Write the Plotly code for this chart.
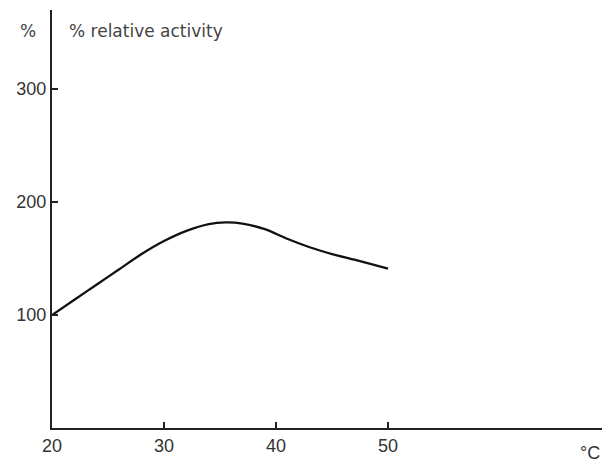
import plotly.graph_objects as go

# Temperature (°C) and relative activity (%)
temperature = [20, 22, 24, 26, 28, 30, 32, 34, 35.5, 37, 39, 41, 43, 45, 47, 50]
activity = [100, 113.5, 127, 140.5, 154, 165.5, 174.5, 180.5, 182, 181, 176, 167.5, 160, 154, 149, 141]

x_ticks = [20, 30, 40, 50]
y_ticks = [100, 200, 300]

fig = go.Figure()
fig.add_trace(go.Scatter(
    x=temperature, y=activity, mode="lines",
    line=dict(color="#111", width=2.3, shape="spline", smoothing=0.8),
    showlegend=False, hoverinfo="skip",
))

tick_font = dict(family="Liberation Sans, Arial, sans-serif", size=18, color="#333")
label_font = dict(family="DejaVu Sans, sans-serif", size=17, color="#444")

fig.update_layout(
    width=602, height=465,
    margin=dict(l=52, r=0, t=10, b=37),
    paper_bgcolor="white", plot_bgcolor="white",
    xaxis=dict(
        range=[20, 69.1], tickvals=x_ticks, ticktext=[str(v) for v in x_ticks],
        ticks="inside", ticklen=6, tickwidth=1.5, tickcolor="#222",
        showline=True, linecolor="#222", linewidth=2, showgrid=False, zeroline=False,
        tickfont=tick_font, fixedrange=True,
    ),
    yaxis=dict(
        range=[0, 370], tickvals=y_ticks, ticktext=[str(v) for v in y_ticks],
        ticks="inside", ticklen=6, tickwidth=1.5, tickcolor="#222",
        showline=True, linecolor="#222", linewidth=2, showgrid=False, zeroline=False,
        tickfont=tick_font, fixedrange=True,
    ),
    annotations=[
        dict(text="%", xref="paper", yref="paper", x=-0.043, y=0.95,
             xanchor="center", yanchor="middle", showarrow=False, font=label_font),
        dict(text="% relative activity", xref="paper", yref="paper", x=0.028, y=0.95,
             xanchor="left", yanchor="middle", showarrow=False, font=label_font),
        dict(text="°C", xref="paper", yref="paper", x=1.0, y=-0.06,
             xanchor="right", yanchor="middle", showarrow=False, font=tick_font),
    ],
)

fig.write_html("out.html")
